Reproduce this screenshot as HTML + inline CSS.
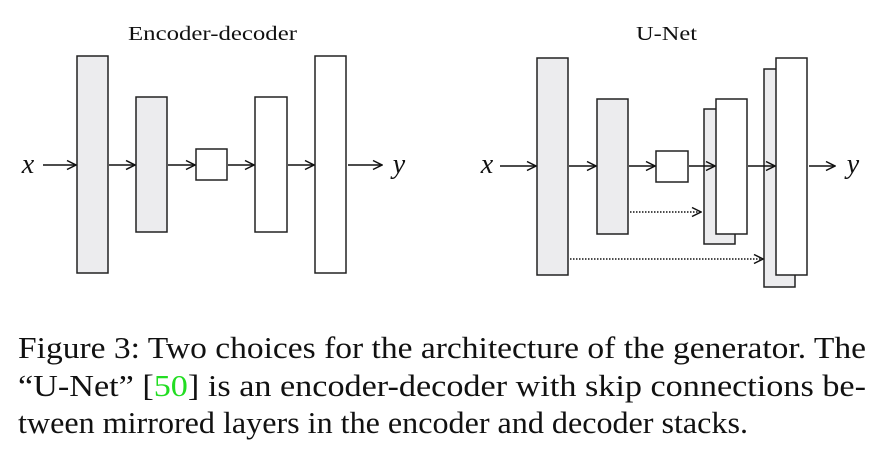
<!DOCTYPE html>
<html><head><meta charset="utf-8"><style>
html,body{margin:0;padding:0;background:#fff;}
svg{display:block;}
</style></head><body>
<svg width="891" height="454" viewBox="0 0 891 454" xmlns="http://www.w3.org/2000/svg">
<defs>
<marker id="a" markerWidth="11" markerHeight="11" refX="10" refY="5.5" orient="auto" markerUnits="userSpaceOnUse">
<path d="M1,1 L10,5.5 L1,10" fill="none" stroke="#111" stroke-width="1.5"/>
</marker>
</defs>
<g font-family="Liberation Serif, serif" fill="#111">
<text x="128" y="40" font-size="20" textLength="169" lengthAdjust="spacingAndGlyphs">Encoder-decoder</text>
<text x="636" y="40" font-size="20" textLength="61" lengthAdjust="spacingAndGlyphs">U-Net</text>
<text x="28" y="173" font-size="28" font-style="italic" text-anchor="middle">x</text>
<text x="399" y="173" font-size="28" font-style="italic" text-anchor="middle">y</text>
<text x="487" y="173" font-size="28" font-style="italic" text-anchor="middle">x</text>
<text x="853" y="173" font-size="28" font-style="italic" text-anchor="middle">y</text>
</g>
<g stroke="#222" stroke-width="1.5">
<rect x="77" y="56" width="31" height="217" fill="#ececee"/>
<rect x="136" y="97" width="31" height="135" fill="#ececee"/>
<rect x="196" y="149" width="31" height="31" fill="#fff"/>
<rect x="255" y="97" width="32" height="135" fill="#fff"/>
<rect x="315" y="56" width="31" height="217" fill="#fff"/>
<rect x="537" y="58" width="31" height="217" fill="#ececee"/>
<rect x="597" y="99" width="31" height="135" fill="#ececee"/>
<rect x="656" y="151" width="32" height="31" fill="#fff"/>
<rect x="704" y="109" width="31" height="135" fill="#ececee"/>
<rect x="716" y="99" width="31" height="135" fill="#fff"/>
<rect x="764" y="69" width="31" height="218" fill="#ececee"/>
<rect x="776" y="58" width="31" height="217" fill="#fff"/>
</g>
<g stroke="#111" stroke-width="1.4" fill="none" marker-end="url(#a)">
<line x1="43" y1="165" x2="76" y2="165"/>
<line x1="109" y1="165" x2="135" y2="165"/>
<line x1="168" y1="165" x2="195" y2="165"/>
<line x1="228" y1="165" x2="254" y2="165"/>
<line x1="288" y1="165" x2="314" y2="165"/>
<line x1="348" y1="165" x2="382" y2="165"/>
<line x1="500" y1="166" x2="536" y2="166"/>
<line x1="569" y1="166" x2="596" y2="166"/>
<line x1="629" y1="166" x2="655" y2="166"/>
<line x1="689" y1="166" x2="715" y2="166"/>
<line x1="748" y1="166" x2="775" y2="166"/>
<line x1="809" y1="166" x2="835" y2="166"/>
<line x1="630" y1="212" x2="701" y2="212" stroke-dasharray="1.5,1.5"/>
<line x1="570" y1="259" x2="763" y2="259" stroke-dasharray="1.5,1.5"/>
</g>
<g font-family="Liberation Serif, serif" font-size="31" fill="#111">
<text x="18" y="358" textLength="848" lengthAdjust="spacingAndGlyphs">Figure 3: Two choices for the architecture of the generator. The</text>
<text x="18" y="396" textLength="848" lengthAdjust="spacingAndGlyphs">“U-Net” [<tspan fill="#22dd22">50</tspan>] is an encoder-decoder with skip connections be-</text>
<text x="18" y="433" textLength="730" lengthAdjust="spacingAndGlyphs">tween mirrored layers in the encoder and decoder stacks.</text>
</g>
</svg>
</body></html>
